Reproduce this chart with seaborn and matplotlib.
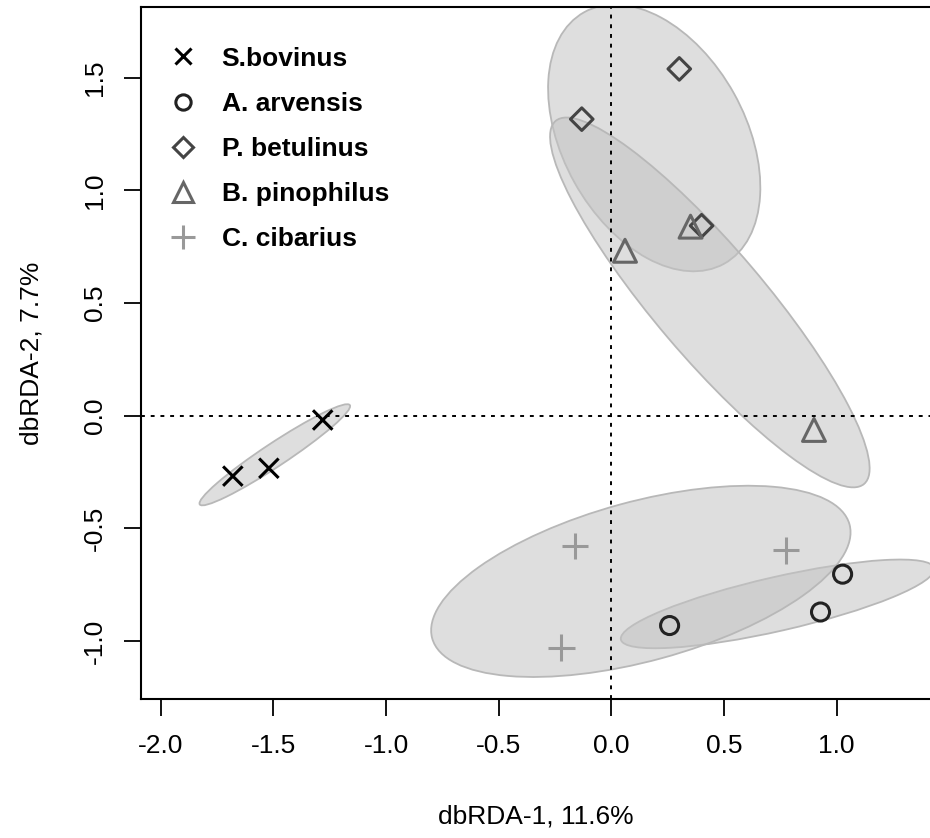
import numpy as np
import pandas as pd
import matplotlib
matplotlib.use("Agg")
import matplotlib.pyplot as plt
from matplotlib.patches import Ellipse
from matplotlib.lines import Line2D
import seaborn as sns

# ---- data ----
species = ["S.bovinus", "A. arvensis", "P. betulinus", "B. pinophilus", "C. cibarius"]
sbovinus_x = [-1.680, -1.520, -1.281]
sbovinus_y = [-0.268, -0.233, -0.019]
aarvensis_x = [0.259, 0.929, 1.027]
aarvensis_y = [-0.931, -0.871, -0.703]
pbetulinus_x = [0.302, -0.131, 0.401]
pbetulinus_y = [1.539, 1.316, 0.843]
bpinophilus_x = [0.061, 0.352, 0.900]
bpinophilus_y = [0.732, 0.839, -0.063]
ccibarius_x = [-0.161, 0.776, -0.221]
ccibarius_y = [-0.578, -0.598, -1.029]
xticks = [-2.0, -1.5, -1.0, -0.5, 0.0, 0.5, 1.0]
yticks = [-1.0, -0.5, 0.0, 0.5, 1.0, 1.5]

xs = [sbovinus_x, aarvensis_x, pbetulinus_x, bpinophilus_x, ccibarius_x]
ys = [sbovinus_y, aarvensis_y, pbetulinus_y, bpinophilus_y, ccibarius_y]
rows = []
for sp, xx, yy in zip(species, xs, ys):
    for a, b in zip(xx, yy):
        rows.append({"species": sp, "x": a, "y": b})
df = pd.DataFrame(rows)

# ---- styles ----
colors = {"S.bovinus": "#000000", "A. arvensis": "#222222", "P. betulinus": "#444444",
          "B. pinophilus": "#666666", "C. cibarius": "#999999"}
markers = {"S.bovinus": "x", "A. arvensis": "o", "P. betulinus": "D",
           "B. pinophilus": "^", "C. cibarius": "+"}
msize = {"S.bovinus": 14, "A. arvensis": 13, "P. betulinus": 11.5,
         "B. pinophilus": 16.5, "C. cibarius": 19}
lgsize = {"S.bovinus": 12, "A. arvensis": 11, "P. betulinus": 10.5,
          "B. pinophilus": 14.5, "C. cibarius": 17}

sns.set_theme(style="white")
plt.rcParams["font.family"] = ["Liberation Sans", "DejaVu Sans"]
plt.rcParams["text.color"] = "black"
plt.rcParams["axes.labelcolor"] = "black"
plt.rcParams["xtick.color"] = "black"
plt.rcParams["ytick.color"] = "black"

W, H = 930, 838
fig = plt.figure(figsize=(W / 100, H / 100), dpi=100)
left, right, bottom, top = 140.7, 930.0, 699.0, 6.7
ax = fig.add_axes([left / W, 1 - bottom / H, (right - left) / W, (bottom - top) / H])

# confidence ellipses (covariance, 75%)
scale = np.sqrt(-2 * np.log(1 - 0.75))
for sp in species:
    g = df[df.species == sp]
    pts = g[["x", "y"]].to_numpy()
    c = pts.mean(axis=0)
    cov = np.cov(pts.T)
    vals, vecs = np.linalg.eigh(cov)
    order = vals.argsort()[::-1]
    vals, vecs = vals[order], vecs[:, order]
    ang = np.degrees(np.arctan2(vecs[1, 0], vecs[0, 0]))
    w, h = 2 * scale * np.sqrt(vals)
    e = Ellipse(c, w, h, angle=ang, facecolor=(0.765, 0.765, 0.765, 0.55),
                edgecolor="#b8b8b8", linewidth=1.3, zorder=1)
    ax.add_patch(e)

ax.axhline(0, color="black", linestyle=(0, (2, 3)), linewidth=1.4, zorder=2)
ax.axvline(0, color="black", linestyle=(0, (2, 3)), linewidth=1.4, zorder=2)

for sp in species:
    g = df[df.species == sp]
    sns.scatterplot(data=g, x="x", y="y", marker=markers[sp], s=msize[sp] ** 2,
                    color=colors[sp], ax=ax, legend=False, zorder=3)
    coll = ax.collections[-1]
    coll.set_facecolor("none")
    coll.set_edgecolor(colors[sp])
    coll.set_linewidth(2.2)

ax.set_xlim(-2.089, 1.415)
ax.set_ylim(-1.257, 1.815)
ax.set_xticks(xticks)
ax.set_xticklabels([f"{v:.1f}" for v in xticks], fontsize=19)
ax.set_yticks(yticks)
ax.set_yticklabels([f"{v:.1f}" for v in yticks], fontsize=19, rotation=90, va="center")
ax.tick_params(axis="both", which="major", direction="out", length=12.5, width=1.3,
               color="black", labelcolor="black", bottom=True, left=True)
ax.tick_params(axis="x", pad=13)
ax.tick_params(axis="y", pad=12)
for s in ["left", "bottom", "top"]:
    ax.spines[s].set_color("black")
    ax.spines[s].set_linewidth(1.5)
ax.spines["right"].set_visible(False)
ax.grid(False)

ax.set_xlabel("dbRDA-1, 11.6%", fontsize=19, labelpad=33, color="black")
ax.set_ylabel("dbRDA-2, 7.7%", fontsize=19, labelpad=28, color="black")

handles = [Line2D([0], [0], linestyle="none", marker=markers[sp], markersize=lgsize[sp],
                  markerfacecolor="none", markeredgecolor=colors[sp], markeredgewidth=2.2)
           for sp in species]
leg = ax.legend(handles, species, loc="upper left", bbox_to_anchor=(0.01, 0.969),
                frameon=False, prop={"weight": "bold", "size": 19},
                handlelength=1.2, handletextpad=0.87, labelspacing=0.8, borderaxespad=0.3)
for t in leg.get_texts():
    t.set_color("black")

fig.savefig("out.png", dpi=100)
